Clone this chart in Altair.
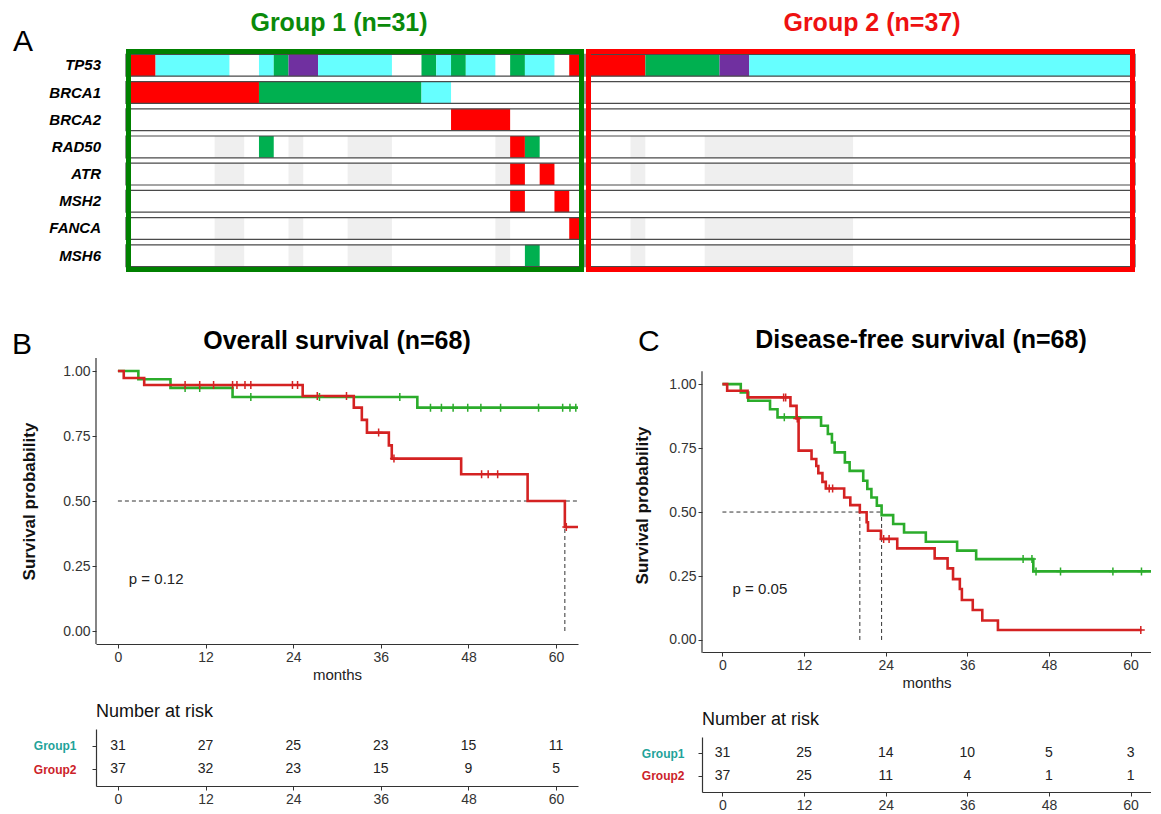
import altair as alt
import pandas as pd

SANS = "Liberation Sans, Arial, sans-serif"

# ---------------- Panel A: oncoprint ----------------
genes = ["TP53", "BRCA1", "BRCA2", "RAD50", "ATR", "MSH2", "FANCA", "MSH6"]
group1_n = 31
group2_n = 37

g1_gene = (["TP53"] * 13 + ["BRCA1"] * 3 + ["BRCA2"] + ["RAD50"] * 3 + ["ATR"] * 2
           + ["MSH2"] * 2 + ["FANCA"] + ["MSH6"])
g1_start = [0, 2, 9, 10, 11, 13, 20, 21, 22, 23, 26, 27, 30,
            0, 9, 20, 22, 9, 26, 27, 26, 28, 26, 29, 30, 27]
g1_end = [2, 7, 10, 11, 13, 18, 21, 22, 23, 25, 27, 29, 31,
          9, 20, 22, 26, 10, 27, 28, 27, 29, 27, 30, 31, 28]
g1_kind = ["red", "cyan", "cyan", "green", "purple", "cyan", "green", "cyan", "green", "cyan", "green", "cyan", "red",
           "red", "green", "cyan", "red", "green", "red", "green", "red", "red", "red", "red", "red", "green"]

g2_gene = ["TP53"] * 4
g2_start = [0, 4, 9, 11]
g2_end = [4, 9, 11, 37]
g2_kind = ["red", "green", "purple", "cyan"]

grey_genes = ["RAD50", "ATR", "FANCA", "MSH6"]
g1_grey_start = [6, 11, 15, 25]
g1_grey_end = [8, 12, 18, 26]
g2_grey_start = [3, 8]
g2_grey_end = [4, 18]

kind_colors = {"red": "#ff0000", "cyan": "#66ffff", "green": "#00b050", "purple": "#7030a0"}

# ---------------- Panel B: overall survival ----------------
os_g1_time = [2.8, 7.2, 15.7, 41.0]
os_g1_surv = [0.968, 0.935, 0.900, 0.859]
os_g1_cens = [9.2, 11.2, 18.2, 27.6, 38.6, 42.8, 44.3, 45.9, 47.9, 49.7, 52.4, 57.6, 60.9, 61.9, 62.7]
os_g2_time = [0.8, 3.6, 25.3, 32.3, 33.4, 34.1, 37.1, 37.5, 47.0, 56.1, 61.2]
os_g2_surv = [0.973, 0.946, 0.904, 0.859, 0.812, 0.763, 0.714, 0.663, 0.603, 0.500, 0.400]
os_g2_cens = [9.2, 11.2, 13.1, 15.7, 16.3, 17.4, 18.2, 23.9, 24.6, 27.3, 31.3, 35.7, 37.8, 49.8, 50.7, 52.0, 61.4]
os_end = [63, 63]
os_median = [61.2]
os_hline_end = 63
os_p = "p = 0.12"

# ---------------- Panel C: disease-free survival ----------------
dfs_g1_time = [2.7, 3.8, 7.0, 8.1, 14.5, 15.5, 16.1, 16.5, 18.0, 18.7, 20.7, 21.3, 21.9, 22.7, 23.4,
               25.1, 26.7, 29.9, 34.5, 37.3, 45.7]
dfs_g1_surv = [0.967, 0.935, 0.902, 0.870, 0.837, 0.805, 0.772, 0.733, 0.694, 0.661, 0.622, 0.590, 0.557,
               0.525, 0.488, 0.453, 0.420, 0.384, 0.349, 0.316, 0.268]
dfs_g1_cens = [9.1, 44.2, 45.5, 46.1, 49.7, 57.4, 61.6]
dfs_g2_time = [0.7, 3.7, 10.0, 10.9, 11.2, 13.1, 13.8, 14.1, 14.7, 15.2, 17.9, 18.8, 20.2, 21.2, 21.4,
               23.3, 25.7, 31.2, 33.1, 33.9, 34.9, 35.2, 36.8, 38.2, 40.5]
dfs_g2_surv = [0.974, 0.948, 0.915, 0.866, 0.740, 0.707, 0.680, 0.652, 0.618, 0.592, 0.557, 0.527, 0.499,
               0.460, 0.427, 0.395, 0.358, 0.319, 0.280, 0.238, 0.199, 0.156, 0.117, 0.076, 0.039]
dfs_g2_cens = [9.0, 9.3, 11.0, 15.7, 16.2, 23.7, 24.5, 61.5]
dfs_end = [63, 61.6]
dfs_median = [20.2, 23.4]
dfs_hline_end = 23.4
dfs_p = "p = 0.05"

# ---------------- Number at risk ----------------
risk_times = [0, 12, 24, 36, 48, 60]
os_risk_g1 = [31, 27, 25, 23, 15, 11]
os_risk_g2 = [37, 32, 23, 15, 9, 5]
dfs_risk_g1 = [31, 25, 14, 10, 5, 3]
dfs_risk_g2 = [37, 25, 11, 4, 1, 1]

GROUP_COLORS = {"Group1": "#2bac2b", "Group2": "#d42222"}
TEAL = "#1fa39a"
LBL_RED = "#cc2229"
CROSS = "M-1,0L1,0M0,-1L0,1"
H_ONCO = 223
COL_PX = 458 / 31          # width of one patient column
LEFT_GAP = 30              # room for gene names inside the first panel


# ================= builders =================
def onco_panel(gene, start, end, kind, gs, ge, n, W, gap, frame_color, title, title_color, tx, first):
    xs = alt.Scale(domain=[-gap / COL_PX, n], nice=False, zero=False)
    ys = alt.Scale(domain=genes, paddingInner=0.2, paddingOuter=0.2)
    X = alt.X("x0:Q", scale=xs, axis=None)
    Y = alt.Y("gene:N", scale=ys, axis=None, sort=genes)
    rows = pd.DataFrame({"gene": genes, "x0": [0] * len(genes), "x1": [n] * len(genes)})
    seg = pd.DataFrame({"gene": gene, "x0": start, "x1": end, "col": [kind_colors[k] for k in kind]})
    grey = pd.DataFrame([{"gene": g, "x0": a, "x1": b} for g in grey_genes for a, b in zip(gs, ge)])

    bg = alt.Chart(rows).mark_rect(color="white").encode(x=X, x2="x1:Q", y=Y)
    gr = alt.Chart(grey).mark_rect(color="#efefef").encode(x=X, x2="x1:Q", y=Y)
    col = alt.Chart(seg).mark_rect().encode(x=X, x2="x1:Q", y=Y, color=alt.Color("col:N", scale=None))
    outline = alt.Chart(rows).mark_rect(filled=False, stroke="#4a4a4a", strokeWidth=1.2).encode(
        x=X, x2="x1:Q", y=Y)
    frame = alt.Chart(pd.DataFrame({"g": [title]})).mark_rect(
        filled=False, stroke=frame_color, strokeWidth=5).encode(
        x=alt.value(gap + 2.5), x2=alt.value(W - 2.5), y=alt.value(2.5), y2=alt.value(H_ONCO - 2.5))
    ttl = alt.Chart(pd.DataFrame({"t": [title]})).mark_text(
        align="center", baseline="alphabetic", fontSize=25, fontWeight="bold", font=SANS,
        color=title_color).encode(text="t:N", x=alt.value(tx), y=alt.value(-18))
    layers = [bg, gr, col, outline, frame, ttl]
    if first:
        layers.append(alt.Chart(rows).mark_text(
            align="right", baseline="middle", fontSize=15, fontWeight="bold", fontStyle="italic",
            font=SANS, color="black").encode(text="gene:N", y=Y, x=alt.value(gap - 25)))
        layers.append(alt.Chart(pd.DataFrame({"t": ["A"]})).mark_text(
            align="left", baseline="alphabetic", fontSize=30, font=SANS, color="black").encode(
            text="t:N", x=alt.value(-83), y=alt.value(2)))
    return alt.layer(*layers).properties(width=W, height=H_ONCO)


def step_frame(times, survs, end, group):
    return pd.DataFrame({"t": [0.0] + list(times) + [end],
                         "s": [1.0] + list(survs) + [survs[-1]],
                         "group": group, "col": GROUP_COLORS[group]})


def cens_frame(cens, times, survs, group):
    lv = []
    for c in cens:
        s = 1.0
        for t, v in zip(times, survs):
            if t <= c:
                s = v
        lv.append(s)
    return pd.DataFrame({"t": cens, "s": lv, "group": group, "col": GROUP_COLORS[group]})


def km_panel(lines, cens, med_times, hline_end, ptext, W, H, ydom, title, tx, ty, letter, lx, ly, ytpad):
    xs = alt.Scale(domain=[-3, 63], nice=False, zero=False)
    ys = alt.Scale(domain=ydom, nice=False, zero=False)
    X = alt.X("t:Q", scale=xs, axis=alt.Axis(
        values=risk_times, title="months", titleFont=SANS, titleFontSize=15, titleFontWeight="normal",
        titleColor="#222", titlePadding=3, labelFont=SANS, labelFontSize=14, labelColor="#333",
        tickSize=4, labelPadding=2, domainColor="#333", tickColor="#333", domainWidth=1.2, grid=False))
    Y = alt.Y("s:Q", scale=ys, axis=alt.Axis(
        values=[0, 0.25, 0.5, 0.75, 1], format=".2f", title="Survival probability", titleFont=SANS,
        titleFontSize=17, titleFontWeight="bold", titleColor="#111", titlePadding=ytpad,
        labelFont=SANS, labelFontSize=14, labelColor="#333", tickSize=4, labelPadding=2,
        domain=False, tickColor="#333", grid=False))
    C = alt.Color("col:N", scale=None)
    # y axis line spans the ggplot-expanded range -0.05 .. 1.05 at the left edge (-3 months)
    axis_line = alt.Chart(pd.DataFrame({"t": [-3.0], "s": [-0.05], "s2": [1.05]})).mark_rule(
        color="#333", strokeWidth=1.2).encode(x=X, y=Y, y2="s2:Q")
    med = pd.DataFrame({"t": [0.0] + list(med_times), "t2": [hline_end] + list(med_times),
                        "s": [0.5] + [0.0] * len(med_times), "s2": [0.5] * (1 + len(med_times))})
    rules = alt.Chart(med).mark_rule(strokeDash=[4, 3], color="#333", strokeWidth=1).encode(
        x=X, x2="t2:Q", y=Y, y2="s2:Q")
    line = alt.Chart(lines).mark_line(interpolate="step-after", strokeWidth=2.6, clip=True).encode(
        x=X, y=Y, color=C, detail="group:N")
    pts = alt.Chart(cens).mark_point(shape=CROSS, size=64, strokeWidth=1.5, filled=False, opacity=1,
                                     clip=True).encode(x=X, y=Y, color=C)
    ptxt = alt.Chart(pd.DataFrame({"t": [1.5], "s": [0.2], "label": [ptext]})).mark_text(
        align="left", baseline="middle", font=SANS, fontSize=15, color="#222").encode(
        x=X, y=Y, text="label:N")
    let = alt.Chart(pd.DataFrame({"label": [letter]})).mark_text(
        align="left", baseline="alphabetic", font=SANS, fontSize=30, color="black").encode(
        x=alt.value(lx), y=alt.value(ly), text="label:N")
    ttl = alt.Chart(pd.DataFrame({"label": [title]})).mark_text(
        align="center", baseline="alphabetic", font=SANS, fontSize=25, fontWeight="bold",
        color="black").encode(x=alt.value(tx), y=alt.value(ty), text="label:N")
    return alt.layer(axis_line, rules, line, pts, ptxt, let, ttl).properties(width=W, height=H)


def risk_panel(c1, c2, W, H, lpad):
    xs = alt.Scale(domain=[-3, 63], nice=False, zero=False)
    df = pd.DataFrame({"t": risk_times * 2, "group": ["Group1"] * len(c1) + ["Group2"] * len(c2),
                       "n": list(c1) + list(c2)})
    return alt.Chart(df).mark_text(font=SANS, fontSize=14, color="#222").encode(
        x=alt.X("t:Q", scale=xs, axis=alt.Axis(
            values=risk_times, title=None, labelFont=SANS, labelFontSize=14, labelColor="#333",
            tickSize=4, labelPadding=2, domainColor="#333", tickColor="#333", domainWidth=1.2, grid=False)),
        y=alt.Y("group:N", scale=alt.Scale(type="point", domain=["Group1", "Group2"], padding=0.7),
                axis=alt.Axis(title=None, labelFont=SANS, labelFontSize=12, labelFontWeight="bold",
                              labelColor=alt.condition("datum.value == 'Group1'", alt.value(TEAL),
                                                       alt.value(LBL_RED)),
                              tickSize=4, labelPadding=lpad, domainColor="#333", tickColor="#333",
                              domainWidth=1.2, grid=False)),
        text="n:Q",
    ).properties(width=W, height=H,
                 title=alt.Title("Number at risk", anchor="start", frame="group", fontSize=18,
                                 font=SANS, fontWeight="normal", color="#111", offset=8))


# ================= assemble =================
W1 = LEFT_GAP + 458
g1_chart = onco_panel(g1_gene, g1_start, g1_end, g1_kind, g1_grey_start, g1_grey_end, group1_n, W1, LEFT_GAP,
                      "#008000", "Group 1 (n=31)", "#0a8a0a", 243, True)
g2_chart = onco_panel(g2_gene, g2_start, g2_end, g2_kind, g2_grey_start, g2_grey_end, group2_n, 549, 0,
                      "#ff0000", "Group 2 (n=37)", "#ee1111", 286, False)
onco_row = alt.hconcat(g1_chart, g2_chart, spacing=0)

os_lines = pd.concat([step_frame(os_g1_time, os_g1_surv, os_end[0], "Group1"),
                      step_frame(os_g2_time, os_g2_surv, os_end[1], "Group2")])
os_cens = pd.concat([cens_frame(os_g1_cens, os_g1_time, os_g1_surv, "Group1"),
                     cens_frame(os_g2_cens, os_g2_time, os_g2_surv, "Group2")])
dfs_lines = pd.concat([step_frame(dfs_g1_time, dfs_g1_surv, dfs_end[0], "Group1"),
                       step_frame(dfs_g2_time, dfs_g2_surv, dfs_end[1], "Group2")])
dfs_cens = pd.concat([cens_frame(dfs_g1_cens, dfs_g1_time, dfs_g1_surv, "Group1"),
                      cens_frame(dfs_g2_cens, dfs_g2_time, dfs_g2_surv, "Group2")])

WB, WC = 482, 449
B_plot = km_panel(os_lines, os_cens, os_median, os_hline_end, os_p, WB, 286, [-0.05, 1.05],
                  "Overall survival (n=68)", 241, -9, "B", -84, -4, 24)
C_plot = km_panel(dfs_lines, dfs_cens, dfs_median, dfs_hline_end, dfs_p, WC, 294, [-0.047, 1.102],
                  "Disease-free survival (n=68)", 219, -10, "C", -64, -7, 17)
B_table = risk_panel(os_risk_g1, os_risk_g2, WB, 57, 16)
C_table = risk_panel(dfs_risk_g1, dfs_risk_g2, WC, 55, 14)

B_col = alt.vconcat(B_plot, B_table, spacing=21)
C_col = alt.vconcat(C_plot, C_table, spacing=21)
row2 = alt.concat(B_col, C_col, columns=2, align="none", spacing=54)

chart = alt.concat(onco_row, row2, columns=1, align="none", spacing=55).properties(
    padding={"left": 4, "top": 3, "right": 0, "bottom": 0}
).configure(font=SANS).configure_view(stroke=None)

chart.save("out.html", embed_options={"renderer": "svg", "actions": False})
